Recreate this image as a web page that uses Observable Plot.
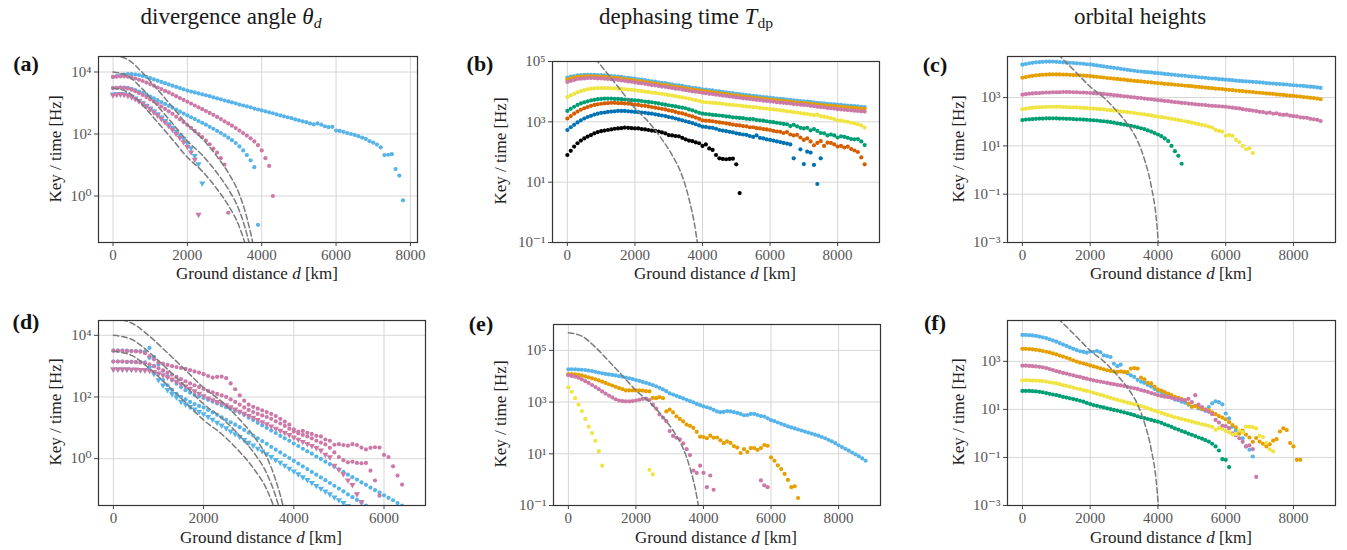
<!DOCTYPE html>
<html>
<head>
<meta charset="utf-8">
<script src="https://cdn.jsdelivr.net/npm/d3@7"></script>
<script src="https://cdn.jsdelivr.net/npm/@observablehq/plot@0.6"></script>
<style>
  body { margin: 0; background: #fff; }
  #root { position: relative; width: 1347px; height: 550px; font-family: "Liberation Serif", "Tinos", "Times New Roman", "DejaVu Serif", serif; color: #222; }
  #root svg { position: absolute; overflow: visible; }
  .lbl { position: absolute; white-space: nowrap; transform: translate(-50%, -50%); line-height: 1; }
  .rot { transform: translate(-50%, -50%) rotate(-90deg); }
  .title { font-size: 23px; color: #1a1a1a; }
  .axl { font-size: 17px; color: #222; }
  .pl { font-size: 22px; font-weight: bold; color: #111; }
  .sub { font-size: 0.68em; position: relative; top: 0.28em; }
</style>
</head>
<body>
<div id="root"></div>
<script>
// ---------- shared sampling grid of ground distances (km) ----------
const dist = [0,100,200,300,400,500,600,700,800,900,1000,1100,1200,1300,1400,1500,1600,1700,1800,1900,2000,2100,2200,2300,2400,2500,2600,2700,2800,2900,3000,3100,3200,3300,3400,3500,3600,3700,3800,3900,4000,4100,4200,4300,4400,4500,4600,4700,4800,4900,5000,5100,5200,5300,5400,5500,5600,5700,5800,5900,6000,6100,6200,6300,6400,6500,6600,6700,6800,6900,7000,7100,7200,7300,7400,7500,7600,7700,7800,7900,8000,8100,8200,8300,8400,8500,8600,8700,8800];

// Values below are log10(key / time [Hz]), aligned with dist.
// ---------- panel (a) ----------
const a_sky1 = [3.84,3.87,3.90,3.92,3.93,3.93,3.92,3.90,3.87,3.84,3.80, 3.76,3.72,3.68,3.64,3.60,3.56,3.52,3.48,3.44,3.40, 3.37,3.34,3.31,3.28,3.25,3.22,3.18,3.15,3.12,3.08, 3.05,3.02,2.99,2.95,2.92,2.89,2.86,2.82,2.79,2.76, 2.73,2.70,2.67,2.63,2.60,2.57,2.54,2.51,2.47,2.44, 2.41,2.38,2.34,2.31,2.34,2.30,2.25,2.22,2.23,2.11, 2.10,2.07,2.03,2.00,1.97,1.93,1.88,1.84,1.77,1.72, 1.66,1.57,1.32,1.33,1.35,0.87,0.66,-0.14];
const a_pink1 = [3.84,3.85,3.86,3.86,3.85,3.82,3.79,3.75,3.71,3.66,3.61, 3.56,3.50,3.45,3.39,3.34,3.28,3.22,3.16,3.10,3.04, 2.98,2.92,2.86,2.80,2.74,2.68,2.62,2.55,2.48,2.41, 2.34,2.27,2.19,2.11,2.03,1.95,1.86,1.76,1.64,1.47, 1.22,0.97,0.0];
const a_sky2 = [3.48,3.49,3.50,3.50,3.49,3.46,3.42,3.37,3.32,3.27,3.21, 3.15,3.09,3.03,2.97,2.91,2.85,2.79,2.72,2.66,2.60, 2.54,2.48,2.42,2.36,2.30,2.23,2.17,2.10,2.03,1.96, 1.88,1.80,1.71,1.60,1.47,1.32,1.15,0.93,-0.93];
const a_pink2 = [3.48,3.49,3.50,3.49,3.47,3.43,3.38,3.32,3.26,3.19,3.12, 3.05,2.97,2.89,2.81,2.73,2.65,2.56,2.47,2.38,2.29, 2.20,2.10,2.00,1.90,1.79,1.67,1.53,1.40,1.22,1.01, -0.54];
const a_sky3 = [3.28,3.29,3.30,3.29,3.26,3.21,3.15,3.08,3.00,2.92,2.83, 2.74,2.64,2.54,2.43,2.32,2.21,2.09,1.97,1.85,1.71, 1.55,1.30,1.03,0.41];
const a_pink3 = [3.25,3.27,3.28,3.27,3.24,3.19,3.13,3.06,2.98,2.89,2.80, 2.70,2.60,2.49,2.38,2.26,2.14,2.01,1.88,1.74,1.59, 1.41,1.18,-0.6];

// ---------- panel (b) ----------
const b_sky = [4.47,4.50,4.52,4.54,4.55,4.56,4.56,4.56,4.56,4.55,4.55, 4.54,4.53,4.52,4.51,4.50,4.49,4.47,4.46,4.44,4.43, 4.41,4.40,4.38,4.36,4.34,4.33,4.31,4.29,4.28,4.26, 4.24,4.22,4.21,4.19,4.17,4.15,4.13,4.12,4.10,4.08, 4.07,4.05,4.04,4.02,4.01,3.99,3.98,3.96,3.95,3.93, 3.92,3.90,3.89,3.88,3.86,3.85,3.84,3.82,3.81,3.80, 3.79,3.77,3.76,3.75,3.74,3.73,3.71,3.70,3.69,3.68, 3.67,3.66,3.65,3.63,3.62,3.61,3.60,3.59,3.58,3.57, 3.56,3.55,3.54,3.53,3.52,3.51,3.50,3.49];
const b_orange = [4.40,4.44,4.47,4.49,4.50,4.51,4.51,4.51,4.51,4.50,4.50, 4.49,4.48,4.47,4.46,4.45,4.43,4.42,4.40,4.39,4.37, 4.35,4.34,4.32,4.30,4.28,4.27,4.25,4.23,4.22,4.20, 4.18,4.16,4.15,4.13,4.11,4.09,4.07,4.06,4.04,4.02, 4.01,3.99,3.98,3.96,3.95,3.93,3.92,3.90,3.89,3.87, 3.86,3.84,3.83,3.82,3.80,3.79,3.78,3.76,3.75,3.74, 3.73,3.71,3.70,3.69,3.68,3.67,3.65,3.64,3.63,3.62, 3.61,3.60,3.59,3.57,3.56,3.55,3.54,3.53,3.52,3.51, 3.50,3.49,3.48,3.47,3.46,3.45,3.44,3.43];
const b_pink = [4.32,4.36,4.39,4.42,4.43,4.44,4.45,4.45,4.45,4.44,4.44, 4.43,4.42,4.41,4.40,4.39,4.37,4.36,4.34,4.33,4.31, 4.29,4.28,4.26,4.24,4.22,4.21,4.19,4.17,4.16,4.14, 4.12,4.10,4.09,4.07,4.05,4.03,4.01,4.00,3.98,3.96, 3.95,3.93,3.92,3.90,3.89,3.87,3.86,3.84,3.83,3.81, 3.80,3.78,3.77,3.76,3.74,3.73,3.72,3.70,3.69,3.68, 3.67,3.65,3.64,3.63,3.62,3.61,3.59,3.58,3.57,3.56, 3.55,3.53,3.52,3.50,3.49,3.48,3.46,3.45,3.44,3.42, 3.41,3.40,3.39,3.38,3.37,3.36,3.35,3.34];
const b_yellow = [3.82,3.88,3.93,3.98,4.02,4.05,4.08,4.10,4.11,4.12,4.12, 4.12,4.12,4.11,4.11,4.10,4.09,4.08,4.07,4.06,4.05, 4.03,4.02,4.00,3.99,3.97,3.96,3.94,3.93,3.91,3.89, 3.87,3.85,3.83,3.81,3.79,3.77,3.74,3.72,3.69,3.66, 3.65,3.64,3.63,3.62,3.61,3.60,3.58,3.57,3.56,3.55, 3.54,3.52,3.51,3.50,3.49,3.48,3.46,3.45,3.44,3.42, 3.41,3.40,3.38,3.37,3.35,3.34,3.32,3.31,3.29,3.27, 3.26,3.24,3.22,3.24,3.18,3.17,3.15,3.12,3.09,3.05, 3.04,3.02,3.00,2.97,2.95,2.92,2.88,2.81];
const b_green = [3.36,3.43,3.50,3.56,3.61,3.65,3.68,3.71,3.73,3.75,3.76, 3.77,3.77,3.77,3.76,3.76,3.75,3.74,3.73,3.72,3.71, 3.70,3.69,3.67,3.66,3.65,3.63,3.61,3.59,3.57,3.55, 3.53,3.51,3.49,3.47,3.45,3.41,3.38,3.34,3.30,3.27, 3.26,3.25,3.23,3.22,3.21,3.20,3.18,3.17,3.15,3.14, 3.13,3.12,3.10,3.09,3.09,3.06,3.05,3.04,3.02,3.00, 2.99,2.97,2.95,2.93,2.92,2.86,2.90,2.85,2.80,2.78, 2.80,2.72,2.76,2.70,2.63,2.62,2.55,2.58,2.55,2.48, 2.52,2.50,2.47,2.43,2.42,2.43,2.35,2.23];
const b_vermillion = [3.11,3.19,3.27,3.34,3.40,3.45,3.49,3.53,3.56,3.58,3.60, 3.61,3.62,3.63,3.63,3.62,3.62,3.61,3.60,3.59,3.57, 3.56,3.54,3.53,3.51,3.49,3.47,3.45,3.43,3.41,3.38, 3.36,3.33,3.30,3.28,3.25,3.21,3.18,3.14,3.10,3.05, 3.04,3.03,3.02,3.00,2.98,2.97,2.95,2.93,2.91,2.89, 2.88,2.86,2.85,2.82,2.82,2.79,2.78,2.76,2.75,2.73, 2.70,2.68,2.67,2.63,2.66,2.58,2.55,2.57,2.48,2.40, 2.45,2.35,2.22,2.30,2.36,2.20,2.31,2.30,2.25,2.18, 2.20,2.15,2.18,2.10,2.05,2.00,1.82,1.59];
const b_blue = [2.73,2.82,2.90,2.98,3.05,3.11,3.16,3.20,3.24,3.27,3.30, 3.31,3.33,3.34,3.35,3.36,3.36,3.36,3.35,3.34,3.33, 3.32,3.31,3.30,3.28,3.27,3.25,3.23,3.21,3.19,3.16, 3.14,3.11,3.08,3.05,3.02,2.99,2.96,2.92,2.88,2.84, 2.83,2.81,2.80,2.77,2.73,2.71,2.69,2.67,2.65,2.62, 2.60,2.58,2.57,2.53,2.50,2.55,2.47,2.45,2.42,2.40, 2.38,2.35,2.33,2.30,2.28,2.25,1.79,null,2.09,1.60, 2.01,1.98,1.57,0.94,1.79];
const b_black = [1.90,2.04,2.18,2.29,2.38,2.45,2.51,2.56,2.62,2.66,2.69, 2.71,2.73,2.75,2.77,2.78,2.79,2.81,2.80,2.79,2.78, 2.78,2.76,2.75,2.73,2.71,2.70,2.68,2.65,2.62,2.56, 2.55,2.53,2.52,2.47,2.42,2.38,2.36,2.32,2.29,2.20, 2.25,2.12,2.07,1.90,1.79,1.77,1.76,1.77,1.78,1.59, 0.64];

// ---------- panel (c) ----------
const c_sky = [4.36,4.39,4.42,4.44,4.46,4.47,4.48,4.49,4.49,4.49,4.48, 4.47,4.46,4.45,4.44,4.43,4.42,4.41,4.40,4.38,4.37, 4.35,4.33,4.31,4.29,4.27,4.25,4.23,4.21,4.19,4.17, 4.15,4.13,4.11,4.09,4.08,4.06,4.05,4.04,4.02,4.01, 4.00,3.98,3.97,3.95,3.94,3.92,3.91,3.90,3.88,3.87, 3.86,3.84,3.83,3.82,3.80,3.79,3.78,3.76,3.75,3.74, 3.73,3.72,3.70,3.69,3.68,3.67,3.66,3.65,3.64,3.63, 3.62,3.60,3.59,3.58,3.57,3.56,3.55,3.54,3.52,3.51, 3.50,3.49,3.48,3.46,3.45,3.44,3.42,3.40];
const c_orange = [3.82,3.85,3.88,3.90,3.92,3.93,3.94,3.95,3.96,3.96,3.96, 3.96,3.95,3.95,3.94,3.93,3.93,3.92,3.91,3.90,3.89, 3.87,3.86,3.84,3.83,3.81,3.80,3.78,3.77,3.75,3.74, 3.72,3.71,3.69,3.68,3.67,3.65,3.64,3.63,3.61,3.60, 3.59,3.57,3.56,3.55,3.53,3.52,3.51,3.49,3.48,3.47, 3.45,3.44,3.43,3.41,3.40,3.39,3.37,3.36,3.35,3.33, 3.32,3.31,3.29,3.28,3.27,3.25,3.24,3.23,3.21,3.20, 3.19,3.17,3.16,3.15,3.13,3.12,3.11,3.09,3.08,3.07, 3.05,3.04,3.02,3.01,2.99,2.98,2.96,2.93];
const c_pink = [3.12,3.14,3.16,3.17,3.18,3.19,3.20,3.21,3.21,3.22,3.22, 3.22,3.23,3.23,3.23,3.22,3.22,3.21,3.21,3.20,3.19, 3.18,3.17,3.16,3.15,3.13,3.12,3.10,3.09,3.07,3.05, 3.04,3.02,3.01,2.99,2.98,2.96,2.94,2.93,2.91,2.89, 2.88,2.86,2.85,2.83,2.81,2.80,2.78,2.77,2.75,2.74, 2.72,2.71,2.70,2.69,2.67,2.66,2.65,2.64,2.63,2.62, 2.60,2.58,2.56,2.55,2.52,2.50,2.48,2.46,2.44,2.41, 2.40,2.36,2.38,2.33,2.35,2.30,2.28,2.29,2.25,2.23, 2.22,2.18,2.17,2.16,2.12,2.10,2.08,2.03];
const c_yellow = [2.52,2.54,2.56,2.58,2.59,2.60,2.61,2.61,2.62,2.62,2.62, 2.62,2.61,2.61,2.60,2.60,2.59,2.58,2.57,2.56,2.55, 2.54,2.53,2.52,2.51,2.49,2.48,2.46,2.45,2.43,2.41, 2.40,2.38,2.36,2.34,2.32,2.30,2.28,2.26,2.23,2.21, 2.19,2.17,2.15,2.12,2.10,2.07,2.05,2.02,1.99,1.96, 1.93,1.90,1.87,1.84,1.80,1.76,1.66,1.62,1.59,1.42, 1.45,1.42,1.25,1.16,1.00,0.86,0.90,0.70];
const c_green = [2.07,2.09,2.10,2.11,2.12,2.13,2.13,2.14,2.14,2.14,2.14, 2.13,2.13,2.12,2.12,2.11,2.10,2.10,2.09,2.08,2.07, 2.06,2.05,2.03,2.02,2.00,1.98,1.96,1.93,1.91,1.88, 1.86,1.83,1.80,1.77,1.73,1.69,1.64,1.59,1.53,1.47, 1.40,1.31,1.20,1.00,0.78,0.59,0.26];

// ---------- panel (d) ----------
const d_pink1 = [3.50,3.50,3.50,3.49,3.49,3.48,3.47,3.42,3.32,3.22,3.12, 3.08,3.04,3.00,2.97,2.94,2.91,2.87,2.83,2.79,2.74, 2.68,2.63,2.65,2.66,2.61,2.44,2.25,2.05,1.88,1.75, 1.68,1.62,1.57,1.51,1.45,1.38,1.29,1.20,1.10,0.95, 0.88,0.90,0.84,0.80,0.74,0.72,0.62,0.58,0.45,0.47, 0.44,0.42,0.47,0.44,0.36,0.30,0.35,0.37,0.36,0.12, 0.05,-0.25,-0.55,-0.84];
const d_pink2 = [3.15,3.15,3.15,3.14,3.14,3.13,3.12,3.10,3.06,3.00,2.93, 2.86,2.79,2.72,2.65,2.58,2.51,2.44,2.38,2.32,2.26, 2.20,2.15,2.10,2.05,2.00,1.92,1.84,1.75,1.66,1.58, 1.51,1.45,1.40,1.35,1.29,1.21,1.14,1.06,0.97,0.88, 0.82,0.77,0.72,0.66,0.58,0.52,0.46,0.35,0.20,0.05, -0.05,-0.12,-0.10,-0.14,-0.15,-0.14,-0.39,-0.71,-1.20];
const d_pink3 = [2.90,2.90,2.90,2.90,2.89,2.89,2.88,2.87,2.85,2.82,2.77, 2.71,2.64,2.57,2.50,2.42,2.35,2.27,2.19,2.11,2.03, 1.96,1.90,1.84,1.79,1.74,1.67,1.60,1.53,1.46,1.39, 1.33,1.26,1.19,1.12,1.05,0.98,0.91,0.84,0.77,0.69, 0.62,0.55,0.48,0.42,0.35,0.27,0.13,0.05,-0.22,-0.35, -0.50,-0.70,-0.85,-1.15,-1.40];
const d_sky1 = [3.50,3.50,3.50,3.50,3.49,3.49,3.48,3.47,3.59,3.30,3.05, 2.85,2.68,2.55,2.43,2.32,2.22,2.14,2.07,2.02,1.97, 1.91,1.85,1.79,1.73,1.67,1.61,1.55,1.50,1.42,1.33, 1.25,1.16,1.08,1.00,0.91,0.83,0.74,0.66,0.58,0.49, 0.41,0.32,0.24,0.16,0.07,-0.01,-0.10,-0.18,-0.26,-0.35, -0.43,-0.52,-0.60,-0.68,-0.77,-0.85,-0.94,-1.02,-1.10,-1.19, -1.27,-1.35,-1.44,-1.52];
const d_sky2 = [3.15,3.15,3.15,3.14,3.14,3.13,3.12,3.12,3.27,3.00,2.75, 2.55,2.38,2.23,2.10,2.00,1.92,1.84,1.77,1.71,1.66, 1.58,1.50,1.42,1.34,1.26,1.18,1.10,1.02,0.93,0.84, 0.75,0.66,0.57,0.48,0.38,0.29,0.20,0.11,0.02,-0.07, -0.16,-0.25,-0.34,-0.43,-0.52,-0.61,-0.70,-0.79,-0.88,-0.97, -1.06,-1.16,-1.25,-1.34,-1.43,-1.52];
const d_sky3 = [2.90,2.90,2.90,2.90,2.89,2.89,2.88,2.88,2.95,2.75,2.55, 2.38,2.23,2.10,1.99,1.85,1.76,1.68,1.60,1.52,1.45, 1.36,1.27,1.17,1.08,0.99,0.89,0.80,0.71,0.61,0.52, 0.43,0.33,0.24,0.15,0.06,-0.04,-0.13,-0.22,-0.32,-0.41, -0.50,-0.60,-0.69,-0.78,-0.88,-0.97,-1.06,-1.15,-1.25,-1.34, -1.43,-1.53];

// ---------- panel (e) ----------
const e_sky = [4.27,4.27,4.27,4.26,4.25,4.24,4.22,4.20,4.17,4.14,4.11, 4.09,4.07,4.05,4.03,4.00,3.98,3.95,3.92,3.89,3.85, 3.82,3.78,3.74,3.70,3.66,3.61,3.55,3.49,3.42,3.34, 3.29,3.24,3.19,3.14,3.09,3.04,2.99,2.93,2.88,2.83, 2.80,2.76,2.70,2.64,2.61,2.62,2.65,2.64,2.61,2.58, 2.54,2.49,2.50,2.54,2.54,2.50,2.46,2.44,2.37,2.30, 2.26,2.21,2.16,2.11,2.06,2.02,1.98,1.94,1.90,1.86, 1.82,1.78,1.74,1.70,1.65,1.60,1.54,1.48,1.41,1.33, 1.26,1.19,1.12,1.05,0.98,0.90,0.82,0.73];
const e_orange = [4.08,4.08,4.07,4.05,4.03,3.99,3.96,3.92,3.88,3.84,3.79, 3.74,3.69,3.64,3.59,3.54,3.50,3.45,3.45,3.45,3.45, 3.45,3.44,3.42,3.41,3.16,3.15,3.19,3.15,2.64,2.71, 2.60,2.45,2.35,2.25,2.13,2.08,2.00,1.85,1.66,1.65, 1.60,1.70,1.62,1.63,1.52,1.41,1.48,1.42,1.30,1.24, 1.03,1.18,1.07,1.22,1.22,1.15,1.22,1.34,1.31,0.86, 0.73,0.55,0.41,0.22,-0.01,-0.29,-0.26,-0.71];
const e_pink = [4.04,4.01,3.98,3.94,3.88,3.81,3.74,3.66,3.58,3.50,3.41, 3.33,3.25,3.18,3.11,3.06,3.04,3.03,3.03,3.04,3.06, 3.09,3.12,3.13,3.08,2.90,2.75,2.52,2.40,2.26,1.88, 1.69,1.62,1.56,1.40,1.18,0.95,0.35,0.26,0.54,0.26, -0.29,0.16,-0.39, null,null,null,null,null,null,null,null,null,null,null,null,null, -0.03,-0.22,-0.29];
const e_yellow = [3.57,3.40,3.15,2.90,2.65,2.35,2.05,1.80,1.50,1.10,0.54, null,null,null,null,null,null,null,null,null,null,null,null,null, 0.38,0.20];

// ---------- panel (f) ----------
const f_sky = [4.10,4.10,4.09,4.08,4.06,4.03,4.00,3.97,3.92,3.87,3.82, 3.76,3.70,3.64,3.58,3.52,3.47,3.42,3.39,3.36,3.41, 3.40,3.43,3.38,3.25,3.22,3.18,2.90,2.80,2.86,2.56, 2.50,2.42,2.35,2.23,2.15,2.10,2.02,1.95,1.85,1.77, 1.72,1.66,1.58,1.51,1.41,1.38,1.32,1.28,1.20,1.11, 1.15,1.04,1.00,0.94,1.10,1.25,1.34,1.30,1.21,0.83, 0.63,0.28,0.12,0.00,-0.20,-0.54,-0.68,-0.96];
const f_orange = [3.52,3.52,3.51,3.50,3.48,3.46,3.43,3.40,3.37,3.33,3.29, 3.24,3.20,3.15,3.10,3.04,2.99,2.95,2.91,2.87,2.83, 2.79,2.75,2.71,2.67,2.63,2.60,2.58,2.56,2.58,2.56, 2.55,2.70,2.72,2.70,2.32,2.25,2.10,2.08,1.95,1.83, 1.78,1.72,1.66,1.60,1.52,1.48,1.43,1.39,1.24,1.11, 1.15,1.08,1.02,1.00,0.97,0.88,0.80,0.72,0.66,0.59, 0.47,0.35,0.25,0.00,0.12,-0.05,-0.17,-0.35,-0.19,-0.34, -0.43,-0.54,-0.45,-0.30,-0.24,0.08,0.21,0.14,-0.40,-0.54, -1.10,-1.10];
const f_pink = [2.82,2.82,2.81,2.80,2.79,2.77,2.75,2.72,2.68,2.64,2.59, 2.56,2.52,2.49,2.45,2.42,2.38,2.35,2.31,2.28,2.24, 2.21,2.18,2.16,2.13,2.10,2.07,2.05,2.02,2.00,1.97, 1.94,1.91,1.88,1.85,1.80,1.77,1.73,1.68,1.64,1.59, 1.56,1.53,1.51,1.48,1.44,1.42,1.40,1.37,1.44,1.30, 1.59,1.20,1.10,0.97,0.90,0.80,0.56,0.45,0.31,0.30, 0.22,0.00,-0.08,-0.20,-0.35,-0.54,-0.50,-0.65,-1.81];
const f_yellow = [2.21,2.21,2.21,2.20,2.20,2.19,2.18,2.16,2.13,2.11,2.08, 2.05,2.01,1.98,1.94,1.91,1.87,1.84,1.80,1.77,1.73, 1.69,1.65,1.61,1.57,1.52,1.48,1.44,1.40,1.36,1.32, 1.28,1.25,1.21,1.18,1.14,1.10,1.05,1.00,0.95,0.90, 0.85,0.81,0.76,0.72,0.67,0.64,0.60,0.56,0.53,0.49, 0.45,0.42,0.38,0.35,0.31,0.27,0.15,0.22,0.18,0.10, 0.05,-0.05,-0.02,0.12,0.05,0.28,0.28,0.26,0.21,-0.10, -0.15,-0.40,-0.66,-0.75];
const f_green = [1.77,1.77,1.77,1.76,1.75,1.73,1.71,1.68,1.65,1.62,1.59, 1.56,1.52,1.49,1.46,1.43,1.40,1.36,1.32,1.27,1.22, 1.18,1.15,1.11,1.08,1.04,1.01,0.98,0.95,0.91,0.88, 0.84,0.80,0.76,0.71,0.67,0.64,0.60,0.56,0.52,0.49, 0.44,0.38,0.33,0.27,0.21,0.16,0.10,0.05,-0.01,-0.06, -0.11,-0.17,-0.22,-0.28,-0.34,-0.43,-0.54,-0.71,-1.07,-1.10, -1.40];

// ---------- dashed reference curves: log10 values at dashDist ----------
const dashDist = [0,400,800,1200,1600,2000,2400,2800,3100,3400,3600,3800,3950,4050,4100];
const dash_sat = [5.68,5.55,5.12,4.58,4.02,3.45,3.00,2.42,1.90,1.20,0.45,-0.65,-2.00,-3.80,-5.00];
const dash_1 = [4.53,4.40,3.97,3.43,2.87,2.30,1.85,1.27,0.75,0.05,-0.70,-1.80,-3.15,-4.95];
const dash_2 = [4.00,3.87,3.44,2.90,2.34,1.77,1.32,0.74,0.22,-0.48,-1.23,-2.33,-3.68];
const dash_3 = [3.48,3.35,2.92,2.38,1.82,1.25,0.80,0.22,-0.30,-1.00,-1.75,-2.85];

// ---------- colours ----------
const SKY = "#56B4E9", ORANGE = "#E69F00", PINK = "#CC79A7", YELLOW = "#F0E442",
      GREEN = "#009E73", VERM = "#D55E00", BLUE = "#0072B2", BLACK = "#000000";

// ---------- axis ticks ----------
const xTicks8 = [0, 2000, 4000, 6000, 8000];
const xTicks6 = [0, 2000, 4000, 6000];
const yTicksA = [1, 100, 10000];
const yTicksB = [0.1, 10, 1000, 100000];
const yTicksC = [0.001, 0.1, 10, 1000];

// ---------- helpers ----------
const SUP = {"-":"⁻","0":"⁰","1":"¹","2":"²","3":"³","4":"⁴","5":"⁵","6":"⁶","7":"⁷","8":"⁸","9":"⁹"};
const powFmt = v => "10" + String(Math.round(Math.log10(v))).split("").map(c => SUP[c]).join("");

function toRows(list) {
  return list.flatMap(s => s.v.map((v, i) => v == null ? null : {d: dist[i], k: Math.pow(10, v), c: s.c, tri: !!s.tri})).filter(Boolean);
}
function dashRows(vals) {
  return vals.map((v, i) => ({d: dashDist[i], k: Math.pow(10, v)}));
}

const root = document.getElementById("root");
const FONT = "'Liberation Serif', 'Tinos', 'Times New Roman', 'DejaVu Serif', serif";

function panel(cfg) {
  const data = toRows(cfg.series);
  const circles = data.filter(r => !r.tri), tris = data.filter(r => r.tri);
  const fig = Plot.plot({
    width: cfg.w, height: 250,
    marginLeft: cfg.m[0], marginRight: cfg.m[1], marginTop: cfg.m[2], marginBottom: cfg.m[3],
    x: {domain: cfg.xd},
    y: {type: "log", domain: cfg.yd},
    color: {type: "identity"},
    style: {fontFamily: FONT, fontSize: "15px", background: "transparent", color: "#555"},
    marks: [
      Plot.gridX(cfg.xt, {stroke: "#d6d6d6", strokeOpacity: 1, strokeWidth: 1}),
      Plot.gridY(cfg.yt, {stroke: "#d6d6d6", strokeOpacity: 1, strokeWidth: 1}),
      Plot.dot(circles, {x: "d", y: "k", fill: "c", r: 2.1, clip: true}),
      Plot.dot(tris, {x: "d", y: "k", fill: "c", r: 2.3, symbol: "triangle", rotate: 180, clip: true}),
      ...cfg.dashes.map(dv => Plot.line(dashRows(dv), {x: "d", y: "k", stroke: "#7b7b7b", strokeWidth: 1.5, strokeDasharray: "5.5,3", curve: "monotone-x", clip: true})),
      Plot.frame({stroke: "#333", strokeWidth: 1.2}),
      Plot.axisX(cfg.xt, {tickSize: 4, tickPadding: 3, tickFormat: d => String(d), label: null, stroke: "#444", fill: "#555", fontSize: 15}),
      Plot.axisY(cfg.yt, {tickSize: 4, tickPadding: 3, tickFormat: powFmt, label: null, stroke: "#444", fill: "#555", fontSize: 15})
    ]
  });
  fig.style.left = cfg.pos[0] + "px";
  fig.style.top = cfg.pos[1] + "px";
  root.appendChild(fig);
}

function label(html, x, y, cls) {
  const el = document.createElement("div");
  el.className = "lbl " + cls;
  el.innerHTML = html;
  el.style.left = x + "px";
  el.style.top = y + "px";
  root.appendChild(el);
}

// ---------- panels ----------
panel({pos: [0, 40], w: 450, m: [98, 33, 16, 48], xd: [-390, 8190], yd: [Math.pow(10, -1.5), Math.pow(10, 4.5)], xt: xTicks8, yt: yTicksA,
  series: [{v: a_sky1, c: SKY}, {v: a_pink1, c: PINK}, {v: a_sky2, c: SKY}, {v: a_pink2, c: PINK}, {v: a_sky3, c: SKY, tri: true}, {v: a_pink3, c: PINK, tri: true}],
  dashes: [dash_1, dash_2, dash_3]});
panel({pos: [450, 40], w: 450, m: [102, 21, 21, 48], xd: [-440, 9240], yd: [0.1, 1e5], xt: xTicks8, yt: yTicksB,
  series: [{v: b_sky, c: SKY}, {v: b_orange, c: ORANGE}, {v: b_pink, c: PINK}, {v: b_yellow, c: YELLOW}, {v: b_green, c: GREEN}, {v: b_vermillion, c: VERM}, {v: b_blue, c: BLUE}, {v: b_black, c: BLACK}],
  dashes: [dash_sat]});
panel({pos: [900, 40], w: 447, m: [107, 12, 16, 48], xd: [-440, 9240], yd: [0.001, Math.pow(10, 4.7)], xt: xTicks8, yt: yTicksC,
  series: [{v: c_sky, c: SKY}, {v: c_orange, c: ORANGE}, {v: c_pink, c: PINK}, {v: c_yellow, c: YELLOW}, {v: c_green, c: GREEN}],
  dashes: [dash_sat]});
panel({pos: [0, 300], w: 450, m: [98, 25, 20, 45], xd: [-330, 6920], yd: [Math.pow(10, -1.52), Math.pow(10, 4.48)], xt: xTicks6, yt: yTicksA,
  series: [{v: d_sky1, c: SKY}, {v: d_sky2, c: SKY}, {v: d_sky3, c: SKY, tri: true}, {v: d_pink1, c: PINK}, {v: d_pink2, c: PINK}, {v: d_pink3, c: PINK, tri: true}],
  dashes: [dash_1, dash_2, dash_3]});
panel({pos: [450, 300], w: 450, m: [103, 20, 24, 45], xd: [-440, 9240], yd: [0.1, 1e6], xt: xTicks8, yt: yTicksB,
  series: [{v: e_sky, c: SKY}, {v: e_orange, c: ORANGE}, {v: e_pink, c: PINK}, {v: e_yellow, c: YELLOW}],
  dashes: [dash_sat]});
panel({pos: [900, 300], w: 447, m: [107, 12, 20, 45], xd: [-440, 9240], yd: [0.001, Math.pow(10, 4.7)], xt: xTicks8, yt: yTicksC,
  series: [{v: f_sky, c: SKY}, {v: f_orange, c: ORANGE}, {v: f_pink, c: PINK}, {v: f_yellow, c: YELLOW}, {v: f_green, c: GREEN}],
  dashes: [dash_sat]});

// ---------- text ----------
label('divergence angle <i>θ</i><span class="sub"><i>d</i></span>', 231, 16, "title");
label('dephasing time <i>T</i><span class="sub">dp</span>', 686, 16, "title");
label('orbital heights', 1140, 16, "title");

[["(a)", 26, 64], ["(b)", 480, 64], ["(c)", 935, 65], ["(d)", 26, 322], ["(e)", 481, 324], ["(f)", 935, 323]]
  .forEach(([t, x, y]) => label(t, x, y, "pl"));

const xl = 'Ground distance <i>d</i> [km]';
[[257, 273], [715, 273], [1171, 273], [261, 537], [716, 537], [1171, 537]].forEach(([x, y]) => label(xl, x, y, "axl"));
const yl = 'Key / time [Hz]';
[[55, 149], [500, 151], [958, 149], [55, 412], [500, 414], [958, 412]].forEach(([x, y]) => label(yl, x, y, "axl rot"));
</script>
</body>
</html>
